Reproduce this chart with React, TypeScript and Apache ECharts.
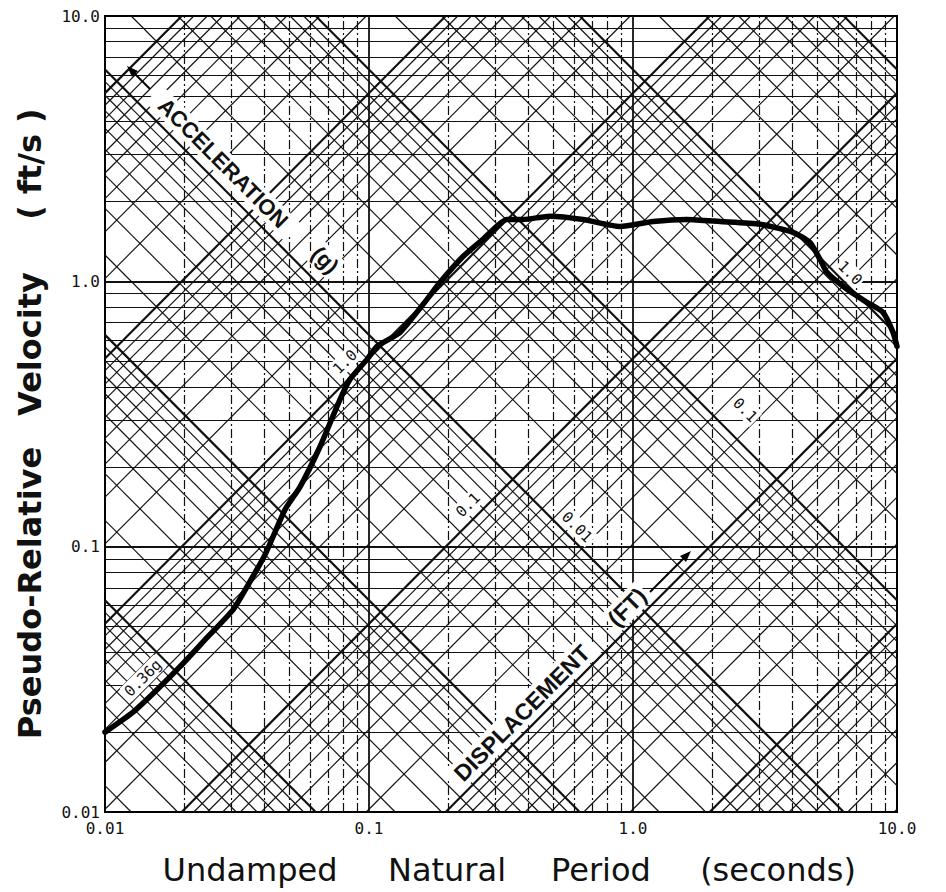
import React, { useEffect, useRef } from "react";
import * as echarts from "echarts";

// ---- data ----
const periodTicks = [0.01, 0.1, 1, 10];
const periodTickLabels = ["0.01", "0.1", "1.0", "10.0"];
const velocityTicks = [0.01, 0.1, 1, 10];
const velocityTickLabels = ["0.01", "0.1", "1.0", "10.0"];

const gridMultipliers = [1, 2, 3, 4, 5, 6, 7, 8, 9];
const periodDecades = [0.01, 0.1, 1];
const velocityDecades = [0.01, 0.1, 1];
const accelDecades = [0.0001, 0.001, 0.01, 0.1, 1, 10, 100]; // g
const dispDecades = [0.00001, 0.0001, 0.001, 0.01, 0.1, 1, 10]; // ft
const G_FT = 32.174;

const spectrumPeriod = [
  0.01, 0.01277, 0.01574, 0.01923, 0.02434, 0.03053, 0.0345, 0.0404, 0.0481,
  0.0548, 0.0652, 0.0777, 0.0847, 0.0983, 0.1072, 0.131, 0.1658, 0.1858, 0.227,
  0.2703, 0.3332, 0.383, 0.485, 0.6467, 0.893, 1.191, 1.601, 2.136, 3.027,
  4.037, 4.68, 5.108, 5.43, 6.466, 7.696, 8.85, 9.66, 10,
];
const spectrumVelocity = [
  0.02, 0.0238, 0.0289, 0.0353, 0.0454, 0.0578, 0.0706, 0.0933, 0.138, 0.168,
  0.238, 0.359, 0.427, 0.508, 0.569, 0.642, 0.855, 0.991, 1.24, 1.44, 1.71,
  1.71, 1.76, 1.71, 1.61, 1.68, 1.71, 1.68, 1.64, 1.53, 1.4, 1.21, 1.08, 0.933,
  0.833, 0.764, 0.642, 0.569,
];

const T_MIN = 0.01, T_MAX = 10, V_MIN = 0.01, V_MAX = 10;

function labelFor(v: number, ticks: number[], labels: string[]) {
  for (let i = 0; i < ticks.length; i++) {
    if (Math.abs(Math.log10(v) - Math.log10(ticks[i])) < 0.01) return labels[i];
  }
  return "";
}

function buildLines() {
  const hMajor: any[] = [], hMinor: any[] = [], vMajor: any[] = [], vMinor: any[] = [];
  const aMajor: any[] = [], aMinor: any[] = [], dMajor: any[] = [], dMinor: any[] = [];
  velocityDecades.forEach((d) =>
    gridMultipliers.forEach((k) => {
      const v = d * k;
      if (v <= V_MIN || v >= V_MAX) return;
      (k === 1 ? hMajor : hMinor).push({ coords: [[T_MIN, v], [T_MAX, v]] });
    })
  );
  periodDecades.forEach((d) =>
    gridMultipliers.forEach((k) => {
      const t = d * k;
      if (t <= T_MIN || t >= T_MAX) return;
      (k === 1 ? vMajor : vMinor).push({ coords: [[t, V_MIN], [t, V_MAX]] });
    })
  );
  accelDecades.forEach((d) =>
    gridMultipliers.forEach((k) => {
      const a = d * k;
      const c = (a * G_FT) / (2 * Math.PI);
      const lo = Math.max(T_MIN, V_MIN / c);
      const hi = Math.min(T_MAX, V_MAX / c);
      if (hi <= lo * 1.0001) return;
      (k === 1 ? aMajor : aMinor).push({ coords: [[lo, c * lo], [hi, c * hi]] });
    })
  );
  dispDecades.forEach((d) =>
    gridMultipliers.forEach((k) => {
      const disp = d * k;
      const c = 2 * Math.PI * disp;
      const lo = Math.max(T_MIN, c / V_MAX);
      const hi = Math.min(T_MAX, c / V_MIN);
      if (hi <= lo * 1.0001) return;
      (k === 1 ? dMajor : dMinor).push({ coords: [[lo, c / lo], [hi, c / hi]] });
    })
  );
  return { hMajor, hMinor, vMajor, vMinor, aMajor, aMinor, dMajor, dMinor };
}

function linesSeries(data: any[], width: number, dash?: any) {
  return {
    type: "lines",
    coordinateSystem: "cartesian2d",
    silent: true,
    polyline: false,
    data,
    symbol: ["none", "none"],
    lineStyle: { color: "#111", width, opacity: 1, type: dash || "solid", curveness: 0 },
    z: 2,
  };
}

const monoFont = "DejaVu Sans Mono";

function txt(text: string, x: number, y: number, rot: number, font: string, z = 60) {
  return {
    type: "text",
    x,
    y,
    rotation: rot,
    z,
    style: {
      text,
      font,
      fill: "#111",
      align: "center",
      verticalAlign: "middle",
      textAlign: "center",
      textVerticalAlign: "middle",
    },
  };
}

function box(x: number, y: number, rot: number, w: number, h: number) {
  return {
    type: "rect",
    x, y, rotation: rot, z: 5,
    shape: { x: -w / 2, y: -h / 2, width: w, height: h },
    style: { fill: "#fff" },
  };
}

export default function App() {
  const ref = useRef<HTMLDivElement>(null);
  useEffect(() => {
    if (!ref.current) return;
    const chart = echarts.init(ref.current, undefined, { renderer: "svg" });
    const L = buildLines();
    const R = Math.PI / 4;
    const option: any = {
      animation: false,
      backgroundColor: "#fff",
      grid: {
        left: 105,
        right: 49,
        top: 16,
        bottom: 80,
        show: true,
        borderColor: "#000",
        borderWidth: 2,
        backgroundColor: "transparent",
      },
      xAxis: {
        type: "log",
        logBase: 10,
        min: T_MIN,
        max: T_MAX,
        axisLine: { show: true, lineStyle: { color: "#000", width: 2 } },
        axisTick: { show: false },
        splitLine: { show: false },
        axisLabel: {
          margin: 8,
          fontFamily: monoFont,
          fontSize: 16,
          color: "#111",
          formatter: (v: number) => labelFor(v, periodTicks, periodTickLabels),
        },
      },
      yAxis: {
        type: "log",
        logBase: 10,
        min: V_MIN,
        max: V_MAX,
        axisLine: { show: true, lineStyle: { color: "#000", width: 2 } },
        axisTick: { show: false },
        splitLine: { show: false },
        axisLabel: {
          margin: 5,
          fontFamily: monoFont,
          fontSize: 16,
          color: "#111",
          formatter: (v: number) => labelFor(v, velocityTicks, velocityTickLabels),
        },
      },
      series: [
        linesSeries(L.hMinor, 1.2),
        linesSeries(L.hMajor, 2),
        linesSeries(L.vMinor, 1.2, [9, 3, 2, 3]),
        linesSeries(L.vMajor, 1.8),
        linesSeries(L.aMinor, 1.15),
        linesSeries(L.aMajor, 2.2),
        linesSeries(L.dMinor, 1.15),
        linesSeries(L.dMajor, 2.2),
        {
          type: "line",
          data: spectrumPeriod.map((t, i) => [t, spectrumVelocity[i]]),
          symbol: "none",
          smooth: 0.2,
          lineStyle: { color: "#000", width: 5.5, cap: "round", join: "round" },
          z: 20,
          silent: true,
        },
      ],
      graphic: [
        // axis titles
        txt("Undamped", 250, 870, 0, "32px 'DejaVu Sans'"),
        txt("Natural", 447, 870, 0, "32px 'DejaVu Sans'"),
        txt("Period", 601, 870, 0, "32px 'DejaVu Sans'"),
        txt("(seconds)", 778, 870, 0, "32px 'DejaVu Sans'"),
        txt("Pseudo-Relative", 30, 593, Math.PI / 2, "bold 32px 'DejaVu Sans'"),
        txt("Velocity", 30, 344, Math.PI / 2, "bold 32px 'DejaVu Sans'"),
        txt("( ft/s )", 30, 164, Math.PI / 2, "bold 32px 'DejaVu Sans'"),
        // family labels
        box(223, 163, -R, 196, 24),
        txt("ACCELERATION", 223, 163, -R, "bold 22px 'Liberation Sans'"),
        box(325, 260, -R, 32, 26),
        txt("(g)", 325, 260, -R, "bold 22px 'Liberation Sans'"),
        box(522, 713, R, 200, 26),
        txt("DISPLACEMENT", 522, 713, R, "bold 23px 'Liberation Sans'"),
        box(627, 607, R, 48, 26),
        txt("(FT)", 627, 607, R, "bold 23px 'Liberation Sans'"),
        // arrows
        {
          type: "line", z: 60,
          shape: { x1: 150, y1: 89, x2: 131, y2: 70 },
          style: { stroke: "#000", lineWidth: 2 },
        },
        {
          type: "polygon", z: 60,
          shape: { points: [[127, 66], [138, 71], [132, 77]] },
          style: { fill: "#000" },
        },
        {
          type: "line", z: 60,
          shape: { x1: 650, y1: 592, x2: 686, y2: 556 },
          style: { stroke: "#000", lineWidth: 2 },
        },
        {
          type: "polygon", z: 60,
          shape: { points: [[691, 551], [680, 556], [686, 562]] },
          style: { fill: "#000" },
        },
        // line value labels
        box(143, 678, R, 48, 18),
        txt("0.36g", 143, 678, R, `15px '${monoFont}'`),
        box(345, 362, R, 30, 18),
        txt("1.0", 345, 362, R, `15px '${monoFont}'`),
        box(468, 505, R, 30, 18),
        txt("0.1", 468, 505, R, `15px '${monoFont}'`),
        box(577, 527, -R, 40, 18),
        txt("0.01", 577, 527, -R, `15px '${monoFont}'`),
        box(745, 410, -R, 30, 18),
        txt("0.1", 745, 410, -R, `15px '${monoFont}'`),
        box(850, 273, -R, 30, 18),
        txt("1.0", 850, 273, -R, `15px '${monoFont}'`),
      ],
    };
    chart.setOption(option);
    return () => chart.dispose();
  }, []);
  return (
    <div
      ref={ref}
      style={{ position: "fixed", left: 0, top: 0, width: 946, height: 892 }}
    />
  );
}
